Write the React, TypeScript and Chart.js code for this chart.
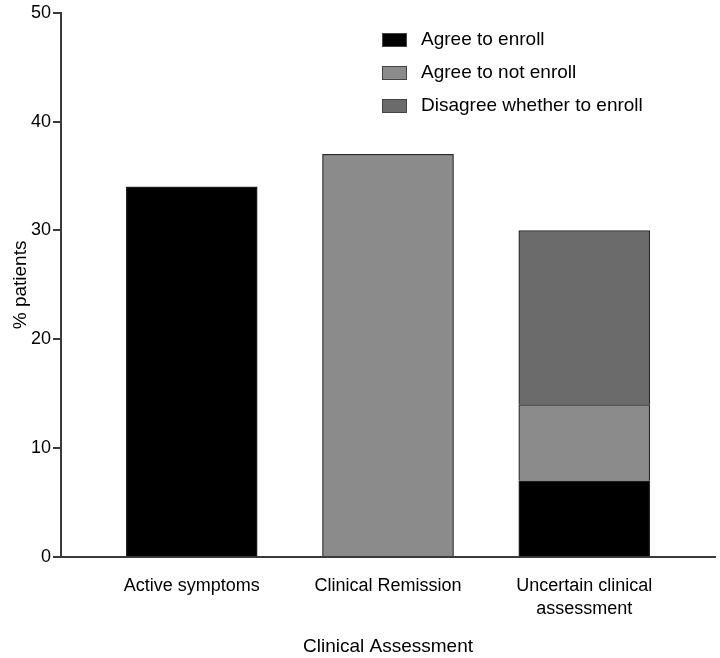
import React, { useEffect, useRef } from "react";
import { Chart, registerables } from "chart.js";

Chart.register(...registerables);

const categories: (string | string[])[] = [
  "Active symptoms",
  "Clinical Remission",
  ["Uncertain clinical", "assessment"],
];
const seriesLabels = ["Agree to enroll", "Agree to not enroll", "Disagree whether to enroll"];
const agreeEnroll: (number | null)[] = [34, null, 7];
const agreeNotEnroll: (number | null)[] = [null, 37, 7];
const disagree: (number | null)[] = [null, null, 16];
const yTicks = [0, 10, 20, 30, 40, 50];
const colors = ["#000000", "#8b8b8b", "#6b6b6b"];

const FONT = "'Liberation Sans', Arial, sans-serif";

const legendPlugin = {
  id: "insideLegend",
  afterDraw(chart: any) {
    const ctx = chart.ctx;
    ctx.save();
    chart.data.datasets.forEach((ds: any, i: number) => {
      const cy = 40 + i * 33;
      ctx.fillStyle = ds.backgroundColor;
      ctx.fillRect(382, cy - 7, 25, 14);
      ctx.strokeStyle = "#444";
      ctx.lineWidth = 1;
      ctx.strokeRect(382.5, cy - 6.5, 24, 13);
      ctx.fillStyle = "#000";
      ctx.font = `19px ${FONT}`;
      ctx.textBaseline = "middle";
      ctx.textAlign = "left";
      ctx.fillText(ds.label, 421, cy);
    });
    ctx.restore();
  },
};

export default function App() {
  const ref = useRef<HTMLCanvasElement>(null);
  useEffect(() => {
    document.body.style.margin = "0";
    const toPts = (arr: (number | null)[]) => arr.map((v, i) => ({ x: i, y: v }));
    const series = [agreeEnroll, agreeNotEnroll, disagree];
    const chart = new Chart(ref.current!, {
      type: "bar",
      data: {
        datasets: series.map((s, i) => ({
          label: seriesLabels[i],
          data: toPts(s) as any,
          backgroundColor: colors[i],
          borderColor: "#262626",
          borderWidth: 1.2,
          barThickness: 131,
        })),
      },
      options: {
        animation: false,
        responsive: false,
        layout: { padding: { top: 11, right: 5, left: 0, bottom: 0 } },
        plugins: { legend: { display: false }, tooltip: { enabled: false } },
        scales: {
          x: {
            type: "linear",
            stacked: true,
            offset: false,
            min: -0.666,
            max: 2.666,
            afterBuildTicks: (scale: any) => {
              scale.ticks = categories.map((_, i) => ({ value: i }));
            },
            afterFit: (scale: any) => {
              scale.height = 101;
            },
            grid: { display: false },
            border: { display: true, color: "#3a3a3a", width: 2 },
            ticks: {
              autoSkip: false,
              maxRotation: 0,
              padding: 9,
              color: "#000",
              font: { family: FONT, size: 18, lineHeight: 1.3 },
              callback: (v: any) => categories[v as number] as any,
            },
            title: {
              display: true,
              text: "Clinical Assessment",
              color: "#000",
              font: { family: FONT, size: 19, lineHeight: 1.2 },
              padding: { top: 0, bottom: 0 },
            },
          },
          y: {
            stacked: true,
            min: 0,
            max: 50,
            afterBuildTicks: (scale: any) => {
              scale.ticks = yTicks.map((v) => ({ value: v }));
            },
            afterFit: (scale: any) => {
              scale.width = 61;
            },
            grid: {
              drawOnChartArea: false,
              drawTicks: true,
              tickLength: 8,
              color: "#3a3a3a",
              lineWidth: 2,
            },
            border: { display: true, color: "#3a3a3a", width: 2 },
            ticks: {
              padding: 2,
              color: "#000",
              font: { family: FONT, size: 18 },
            },
            title: {
              display: true,
              text: "% patients",
              color: "#000",
              font: { family: FONT, size: 19, lineHeight: 1.2 },
              padding: { top: 9, bottom: 0 },
            },
          },
        },
      },
      plugins: [legendPlugin],
    });
    return () => chart.destroy();
  }, []);
  return (
    <div style={{ width: 720, height: 658, background: "#fff" }}>
      <canvas ref={ref} width={720} height={658} />
    </div>
  );
}
